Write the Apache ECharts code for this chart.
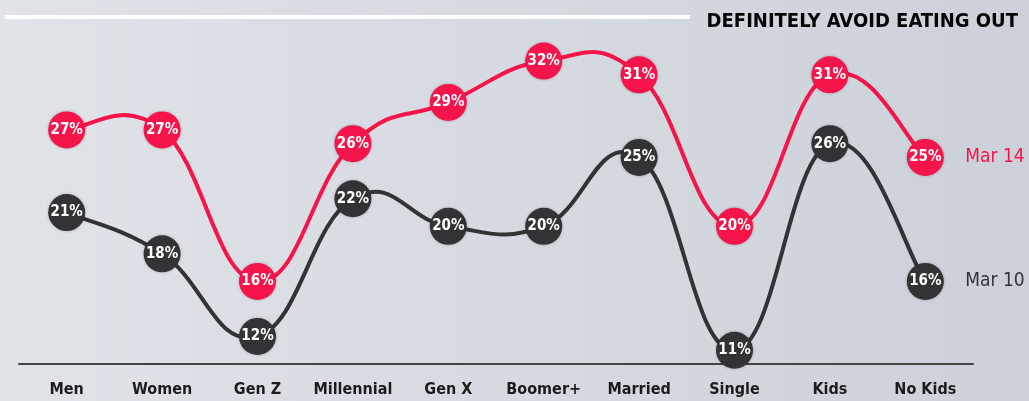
<!DOCTYPE html>
<html>
<head>
<meta charset="utf-8">
<script src="https://cdn.jsdelivr.net/npm/echarts@6/dist/echarts.min.js"></script>
<style>
html,body{margin:0;padding:0;background:#d8dce2;}
#c{width:1029px;height:401px;}
</style>
</head>
<body>
<div id="c"></div>
<script>
const categories = ['Men','Women','Gen Z','Millennial','Gen X','Boomer+','Married','Single','Kids','No Kids'];
const mar14 = [27,27,16,26,29,32,31,20,31,25];
const mar10 = [21,18,12,22,20,20,25,11,26,16];
const seriesNames = ['Mar 14','Mar 10'];
const titleText = 'DEFINITELY AVOID EATING OUT';

const RED = '#f5154b';
const DARK = '#333335';
const FONT = "'DejaVu Sans Condensed', 'DejaVu Sans', sans-serif";
const TENSION = 0.22;

// Cardinal-spline curve drawn through the library's own coordinate system
function curveSeries(values, color) {
  return {
    type: 'custom',
    data: values,
    clip: false,
    z: 1,
    silent: true,
    renderItem: function (params, api) {
      if (params.dataIndex !== 0) return null;
      const pts = values.map(function (v, i) { return api.coord([i, v]); });
      const n = pts.length;
      const children = [];
      for (let i = 0; i < n - 1; i++) {
        const p0 = pts[Math.max(0, i - 1)], p1 = pts[i], p2 = pts[i + 1], p3 = pts[Math.min(n - 1, i + 2)];
        children.push({
          type: 'bezierCurve',
          shape: {
            x1: p1[0], y1: p1[1], x2: p2[0], y2: p2[1],
            cpx1: p1[0] + (p2[0] - p0[0]) * TENSION,
            cpy1: p1[1] + (p2[1] - p0[1]) * TENSION,
            cpx2: p2[0] - (p3[0] - p1[0]) * TENSION,
            cpy2: p2[1] - (p3[1] - p1[1]) * TENSION
          },
          style: { stroke: color, lineWidth: 4, fill: null, lineCap: 'round' }
        });
      }
      return { type: 'group', children: children };
    }
  };
}

function pointSeries(name, data, color, z) {
  return {
    name: name,
    type: 'line',
    data: data,
    symbol: 'circle',
    symbolSize: 37,
    lineStyle: { width: 0, opacity: 0 },
    itemStyle: { color: color, shadowColor: 'rgba(0,0,0,0.25)', shadowBlur: 3 },
    label: {
      show: true, position: 'inside',
      formatter: '{c}%',
      color: '#fff', fontFamily: FONT, fontWeight: 'bold', fontSize: 15
    },
    endLabel: {
      show: true, formatter: name, distance: 40,
      color: color, fontFamily: FONT, fontSize: 19
    },
    z: z
  };
}

const chart = echarts.init(document.getElementById('c'), null, {renderer: 'canvas'});
chart.setOption({
  backgroundColor: new echarts.graphic.LinearGradient(0, 0, 1, 0, [
    {offset: 0, color: '#e0e3e8'}, {offset: 1, color: '#ccd1d9'}
  ]),
  animation: false,
  title: {
    text: titleText, right: 6, top: 7,
    textStyle: { fontFamily: FONT, fontWeight: 'bold', fontSize: 20, color: '#050505' }
  },
  graphic: [{
    type: 'rect', left: 5, top: 15, shape: { width: 685, height: 4 },
    style: { fill: '#ffffff' }
  }],
  grid: { left: 19, right: 56, top: 6, bottom: 37, containLabel: false },
  xAxis: {
    type: 'category', data: categories, boundaryGap: true,
    axisLine: { show: true, lineStyle: { color: '#444', width: 2 } },
    axisTick: { show: false },
    axisLabel: { interval: 0, color: '#1c1c1c', fontFamily: FONT, fontWeight: 'bold', fontSize: 16, margin: 18 }
  },
  yAxis: { type: 'value', min: 10, max: 36, show: false },
  series: [
    curveSeries(mar10, DARK),
    curveSeries(mar14, RED),
    pointSeries(seriesNames[1], mar10, DARK, 3),
    pointSeries(seriesNames[0], mar14, RED, 4)
  ]
});
</script>
</body>
</html>
